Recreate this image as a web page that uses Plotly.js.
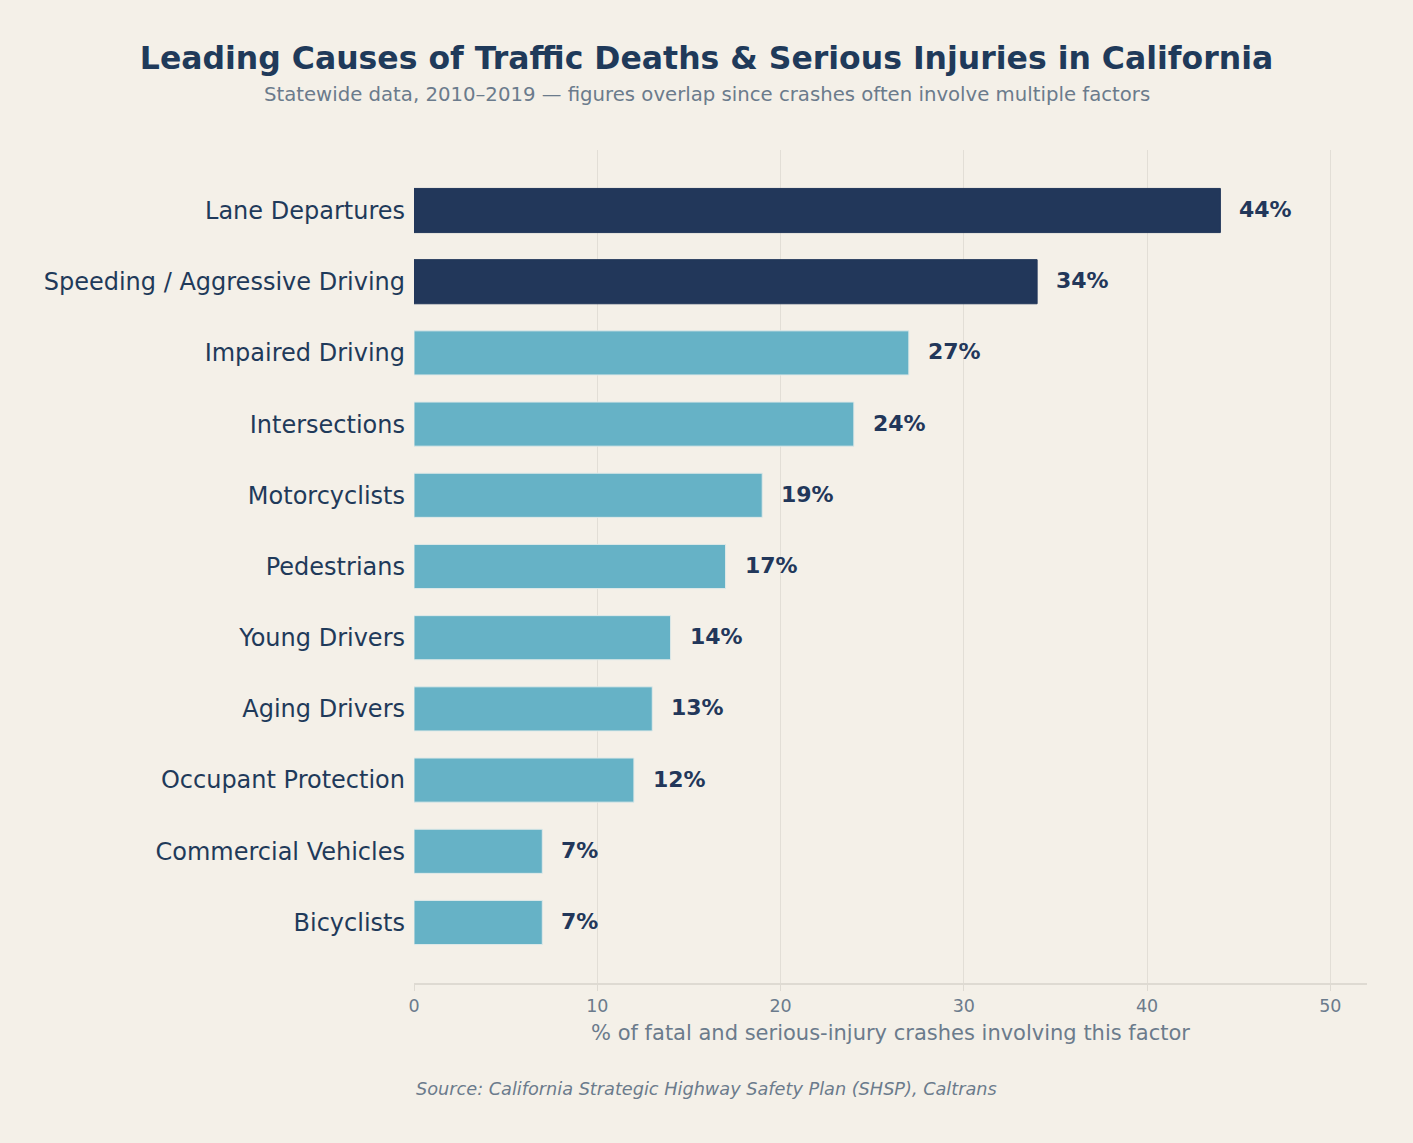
<!DOCTYPE html>
<html>
<head>
<meta charset="utf-8">
<script src="https://cdn.plot.ly/plotly-3.0.1.min.js"></script>
<style>html,body{margin:0;padding:0;background:#f4f0e8;}#chart{width:1413px;height:1143px;}</style>
</head>
<body>
<div id="chart"></div>
<script>
const categories = ["Lane Departures","Speeding / Aggressive Driving","Impaired Driving","Intersections","Motorcyclists","Pedestrians","Young Drivers","Aging Drivers","Occupant Protection","Commercial Vehicles","Bicyclists"];
const values = [44,34,27,24,19,17,14,13,12,7,7];
const highlighted = [true,true,false,false,false,false,false,false,false,false,false];
const labels = values.map(v => v + "%");

const DARK = "#22375a", LIGHT = "#66b2c6", BG = "#f4f0e8", FONT = "DejaVu Sans, sans-serif";

const trace = {
  type: "bar", orientation: "h",
  x: values, y: categories,
  width: 0.62,
  marker: {color: highlighted.map(h => h ? DARK : LIGHT), line: {color: highlighted.map(h => h ? DARK : "#dfe9e8"), width: 1}},
  hoverinfo: "none"
};

const W = 1413, H = 1143, ML = 414, MR = 46, MT = 150, MB = 160;
const PW = W - ML - MR, PH = H - MT - MB;

const annotations = values.map((v, i) => ({
  x: v, y: categories[i], xref: "x", yref: "y", text: "<b>" + labels[i] + "</b>",
  showarrow: false, xanchor: "left", xshift: 17, yshift: 1, font: {family: FONT, size: 22, color: DARK}
}));
annotations.push({
  xref: "paper", yref: "paper", x: 0, y: -0.113, xanchor: "left", yanchor: "top",
  text: "<i>Source: California Strategic Highway Safety Plan (SHSP), Caltrans</i>",
  showarrow: false, font: {family: FONT, size: 17.7, color: "#6b7b8c"}
});
annotations.push({
  xref: "paper", yref: "paper", x: (W / 2 - ML) / PW, y: 1 + (MT - 94) / PH, xanchor: "center", yanchor: "middle",
  text: "Statewide data, 2010–2019 — figures overlap since crashes often involve multiple factors",
  showarrow: false, font: {family: FONT, size: 19.7, color: "#6b7b8c"}
});

const layout = {
  width: W, height: H,
  paper_bgcolor: BG, plot_bgcolor: BG,
  margin: {l: ML, r: MR, t: MT, b: MB},
  title: {text: "<b>Leading Causes of Traffic Deaths &amp; Serious Injuries in California</b>", x: 0.5, xanchor: "center", xref: "container", yref: "container", y: 1 - 58/1143, yanchor: "middle",
    font: {family: FONT, size: 31.5, color: "#1f3a5a"}},
  xaxis: {range: [0, 52], tickvals: [0,10,20,30,40,50], showgrid: true, gridcolor: "#e2ded6", gridwidth: 1,
    zeroline: false, showline: true, linecolor: "#dedad2", linewidth: 2, ticks: "outside", ticklen: 6, tickcolor: "#dedad2",
    tickfont: {family: FONT, size: 17.5, color: "#6b7b8c"},
    title: {text: "% of fatal and serious-injury crashes involving this factor", standoff: 10, font: {family: FONT, size: 21, color: "#6b7b8c"}}},
  yaxis: {autorange: false, range: [10.85, -0.85], type: "category", showgrid: false, zeroline: false, showline: false, ticks: "", ticklabelstandoff: 8,
    tickfont: {family: FONT, size: 24, color: "#1f3a5a"}},
  annotations: annotations,
  showlegend: false
};

Plotly.newPlot("chart", [trace], layout, {displayModeBar: false, staticPlot: true});
</script>
</body>
</html>
